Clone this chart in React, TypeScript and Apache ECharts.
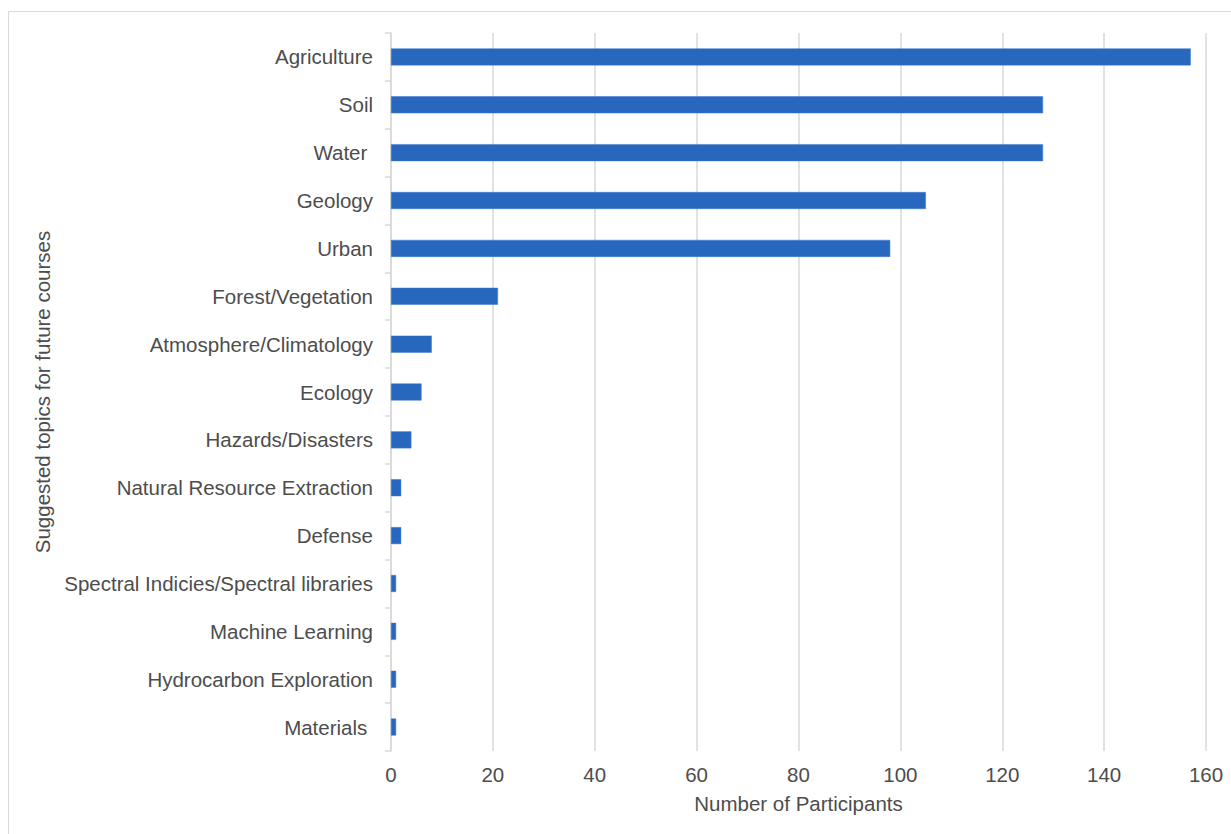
import React, { useEffect, useRef } from "react";
import * as echarts from "echarts";

const categories = [
  "Agriculture",
  "Soil",
  "Water ",
  "Geology",
  "Urban",
  "Forest/Vegetation",
  "Atmosphere/Climatology",
  "Ecology",
  "Hazards/Disasters",
  "Natural Resource Extraction",
  "Defense",
  "Spectral Indicies/Spectral libraries",
  "Machine Learning",
  "Hydrocarbon Exploration",
  "Materials ",
];
const participants = [157, 128, 128, 105, 98, 21, 8, 6, 4, 2, 2, 1, 1, 1, 1];
const xTicks = { min: 0, max: 160, interval: 20 };

export default function App() {
  const ref = useRef<HTMLDivElement>(null);
  useEffect(() => {
    if (!ref.current) return;
    const chart = echarts.init(ref.current, null, { renderer: "svg" });
    const font = "'Liberation Sans', Arial, sans-serif";
    const fs = 20.5;
    const col = "#4d4d4d";
    chart.setOption({
      animation: false,
      backgroundColor: "#ffffff",
      textStyle: { fontFamily: font },
      grid: { left: 391, right: 25, top: 33, bottom: 83, containLabel: false },
      graphic: [
        { type: "line", shape: { x1: 8.5, y1: 11.5, x2: 1240, y2: 11.5 }, style: { stroke: "#d9d9d9", lineWidth: 1 } },
        { type: "line", shape: { x1: 8.5, y1: 11.5, x2: 8.5, y2: 840 }, style: { stroke: "#d9d9d9", lineWidth: 1 } },
      ],
      xAxis: {
        type: "value",
        min: xTicks.min,
        max: xTicks.max,
        interval: xTicks.interval,
        name: "Number of Participants",
        nameLocation: "middle",
        nameGap: 42,
        nameTextStyle: { fontSize: fs, color: col, fontFamily: font },
        axisLine: { show: false },
        axisTick: { show: false },
        axisLabel: { fontSize: fs, color: col, margin: 13, fontFamily: font },
        splitLine: { show: true, lineStyle: { color: "#d9d9d9", width: 1.5 } },
      },
      yAxis: {
        type: "category",
        data: categories,
        inverse: true,
        name: "Suggested topics for future courses",
        nameLocation: "middle",
        nameGap: 334,
        nameTextStyle: { fontSize: fs, color: col, fontFamily: font },
        axisLine: { show: true, lineStyle: { color: "#d9d9d9", width: 1.5 } },
        axisTick: { show: true, length: 6, lineStyle: { color: "#d9d9d9", width: 1.5 } },
        axisLabel: { fontSize: fs, color: col, margin: 18, fontFamily: font, padding: [0, 0, 2, 0] },
        splitLine: { show: false },
      },
      series: [
        {
          type: "bar",
          data: participants,
          barWidth: 17,
          itemStyle: { color: "#2867be", borderColor: "#3b78d0", borderWidth: 0.5 },
        },
      ],
    });
    return () => chart.dispose();
  }, []);
  return (
    <div
      ref={ref}
      style={{ position: "absolute", left: 0, top: 0, width: 1231, height: 834 }}
    />
  );
}
